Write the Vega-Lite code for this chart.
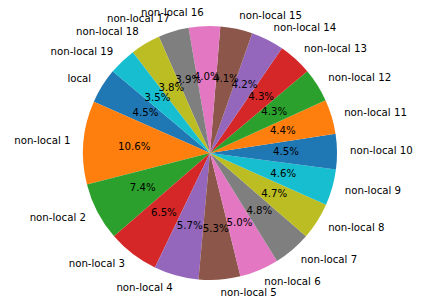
{
  "$schema": "https://vega.github.io/schema/vega-lite/v6.json",
  "width": 420,
  "height": 306,
  "autosize": {"type": "none"},
  "padding": 0,
  "background": "white",
  "config": {"view": {"stroke": null}},
  "data": {
    "values": [
      {"k": 0, "name": "local", "share": 0.045},
      {"k": 1, "name": "non-local 1", "share": 0.106},
      {"k": 2, "name": "non-local 2", "share": 0.074},
      {"k": 3, "name": "non-local 3", "share": 0.065},
      {"k": 4, "name": "non-local 4", "share": 0.057},
      {"k": 5, "name": "non-local 5", "share": 0.053},
      {"k": 6, "name": "non-local 6", "share": 0.050},
      {"k": 7, "name": "non-local 7", "share": 0.048},
      {"k": 8, "name": "non-local 8", "share": 0.047},
      {"k": 9, "name": "non-local 9", "share": 0.046},
      {"k": 10, "name": "non-local 10", "share": 0.045},
      {"k": 11, "name": "non-local 11", "share": 0.044},
      {"k": 12, "name": "non-local 12", "share": 0.043},
      {"k": 13, "name": "non-local 13", "share": 0.043},
      {"k": 14, "name": "non-local 14", "share": 0.042},
      {"k": 15, "name": "non-local 15", "share": 0.041},
      {"k": 16, "name": "non-local 16", "share": 0.040},
      {"k": 17, "name": "non-local 17", "share": 0.039},
      {"k": 18, "name": "non-local 18", "share": 0.038},
      {"k": 19, "name": "non-local 19", "share": 0.035}
    ]
  },
  "encoding": {
    "theta": {"field": "share", "type": "quantitative", "stack": true, "scale": {"range": [-0.8727, -7.1559]}},
    "order": {"field": "k", "type": "quantitative"},
    "detail": {"field": "name", "type": "nominal"}
  },
  "layer": [
    {
      "mark": {"type": "arc", "radius": 127, "strokeWidth": 0},
      "encoding": {
        "color": {
          "field": "name",
          "type": "nominal",
          "legend": null,
          "scale": {
            "domain": ["local", "non-local 1", "non-local 2", "non-local 3", "non-local 4", "non-local 5", "non-local 6", "non-local 7", "non-local 8", "non-local 9", "non-local 10", "non-local 11", "non-local 12", "non-local 13", "non-local 14", "non-local 15", "non-local 16", "non-local 17", "non-local 18", "non-local 19"],
            "range": ["#1f77b4", "#ff7f0e", "#2ca02c", "#d62728", "#9467bd", "#8c564b", "#e377c2", "#7f7f7f", "#bcbd22", "#17becf", "#1f77b4", "#ff7f0e", "#2ca02c", "#d62728", "#9467bd", "#8c564b", "#e377c2", "#7f7f7f", "#bcbd22", "#17becf"]
          }
        }
      }
    },
    {
      "mark": {"type": "text", "radius": 76, "fontSize": 10.2, "font": "DejaVu Sans", "color": "black", "align": "center", "baseline": "middle"},
      "encoding": {"text": {"field": "share", "type": "quantitative", "format": ".1%"}}
    },
    {
      "mark": {"type": "text", "radius": 140, "fontSize": 10.2, "font": "DejaVu Sans", "color": "black", "align": "right", "baseline": "middle"},
      "encoding": {"text": {"condition": {"test": "indexof(['local','non-local 1','non-local 2','non-local 3','non-local 4','non-local 16','non-local 17','non-local 18','non-local 19'], datum.name) >= 0", "field": "name"}, "value": ""}}
    },
    {
      "mark": {"type": "text", "radius": 140, "fontSize": 10.2, "font": "DejaVu Sans", "color": "black", "align": "left", "baseline": "middle"},
      "encoding": {"text": {"condition": {"test": "indexof(['local','non-local 1','non-local 2','non-local 3','non-local 4','non-local 16','non-local 17','non-local 18','non-local 19'], datum.name) < 0", "field": "name"}, "value": ""}}
    }
  ]
}
